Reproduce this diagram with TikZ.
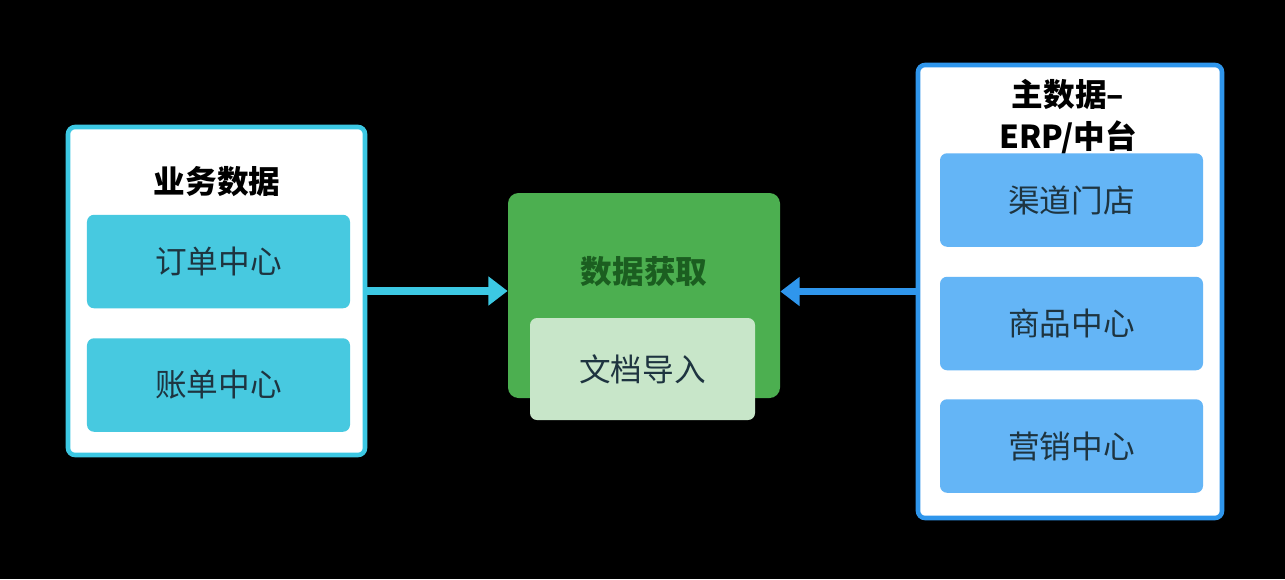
\documentclass[tikz,border=0pt]{standalone}
\usepackage{fontspec}
\setmainfont{Noto Sans CJK SC}
\usepackage{tikz}
\usetikzlibrary{arrows.meta}

\definecolor{cyanline}{HTML}{3CC8E3}
\definecolor{cyanfill}{HTML}{47C9E0}
\definecolor{greenfill}{HTML}{4CAF50}
\definecolor{greenlight}{HTML}{C8E6C9}
\definecolor{greendark}{HTML}{1B5E20}
\definecolor{blueline}{HTML}{2F96EC}
\definecolor{bluefill}{HTML}{64B5F6}
\definecolor{textdark}{HTML}{1E3440}

\tikzset{
  panel/.style={draw, line width=2.6pt, fill=white, rounded corners=4pt, inner sep=0pt},
  item/.style={rounded corners=4pt, inner sep=0pt, minimum width=5.26cm, minimum height=1.87cm,
               text=textdark, font=\fontsize{18}{22}\selectfont},
  heading/.style={font=\fontsize{18}{24}\selectfont\bfseries, align=center},
  flow/.style={line width=4.5pt, -{Triangle[width=16pt, length=11pt]}}
}

\begin{document}
\begin{tikzpicture}[x=0.2mm, y=-0.2mm]

% background
\fill[black] (0, 0) rectangle (1285, 579);
\useasboundingbox (0, 0) rectangle (1285, 579);

% left panel: business data
\node[panel, draw=cyanline, minimum width=5.94cm, minimum height=6.56cm] (bizdata) at (216.5, 291) {};
\node[heading] (biztitle) at (217, 182) {业务数据};
\node[item, fill=cyanfill] (orders) at (218.5, 261.5) {订单中心};
\node[item, fill=cyanfill] (bills) at (218.5, 385) {账单中心};

% centre: data acquisition
\node[fill=greenfill, rounded corners=6pt, minimum width=5.44cm, minimum height=4.1cm] (fetch) at (644, 295.5) {};
\node[heading, text=greendark] (fetchtitle) at (644, 272) {数据获取};
\node[item, fill=greenlight, minimum width=4.5cm, minimum height=2.04cm] (docimport) at (642.5, 369) {文档导入};

% right panel: master data
\node[panel, draw=blueline, minimum width=6.08cm, minimum height=9.06cm] (master) at (1070, 291.5) {};
\node[heading] (mastertitle) at (1068, 117) {主数据–\\ERP/中台};
\node[item, fill=bluefill] (stores) at (1071.5, 200) {渠道门店};
\node[item, fill=bluefill] (goods) at (1071.5, 323.5) {商品中心};
\node[item, fill=bluefill] (market) at (1071.5, 446) {营销中心};

% arrows
\draw[flow, color=cyanline] (bizdata.east) -- (bizdata.east -| fetch.west);
\draw[flow, color=blueline] (master.west) -- (master.west -| fetch.east);

\end{tikzpicture}
\end{document}
